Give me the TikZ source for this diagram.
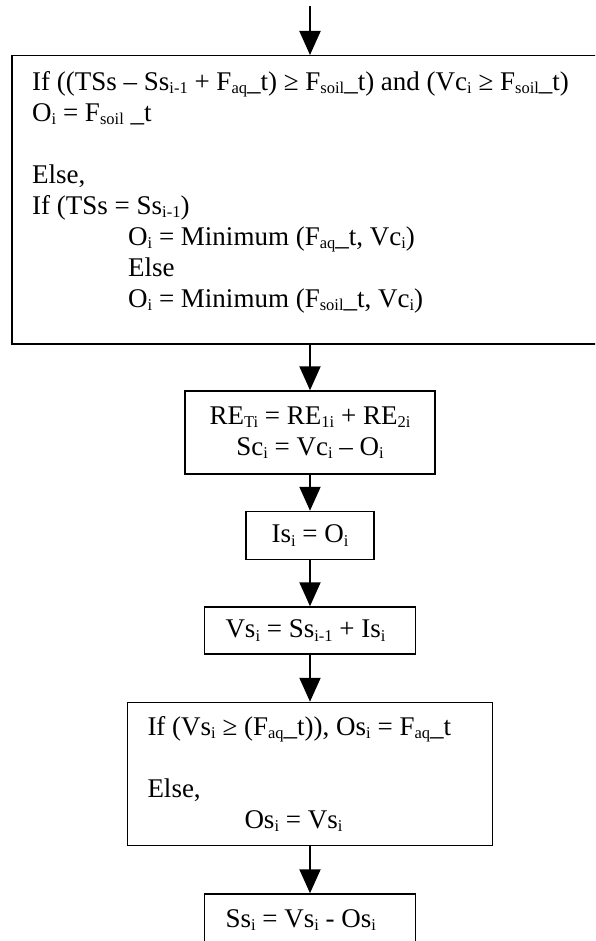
\documentclass[tikz,border=0pt]{standalone}
\usepackage{fontspec}
\setmainfont{Liberation Serif}
\usetikzlibrary{arrows.meta,positioning}
\newcommand{\sbx}[1]{\raisebox{-3.5pt}{\fontsize{16.5}{16.5}\selectfont #1}}

\begin{document}
\begin{tikzpicture}[x=1pt, y=-1pt,
    every node/.style={font=\fontsize{27}{31}\selectfont},
    box/.style={draw, line width=1.5pt},
    flow/.style={-{Triangle[width=21pt,length=24pt]}, line width=2pt}]
  \path[use as bounding box, clip] (0,0) rectangle (595,941);

  \coordinate (start) at (310,6);
  \node[box, anchor=north west, minimum width=640pt, minimum height=288pt] (cond) at (11,55) {};
  \node[anchor=north west, align=left, inner sep=0pt] (condtext) at ([xshift=21pt, yshift=-16pt]cond.north west) {If ((TSs – Ss\sbx{i-1} + F\sbx{aq}\_t) ≥ F\sbx{soil}\_t) and (Vc\sbx{i} ≥ F\sbx{soil}\_t)\\
    O\sbx{i} = F\sbx{soil} \_t\\[31pt]
    Else,\\
    If (TSs = Ss\sbx{i-1})\\
    \hspace*{96pt}O\sbx{i} = Minimum (F\sbx{aq}\_t, Vc\sbx{i})\\
    \hspace*{96pt}Else\\
    \hspace*{96pt}O\sbx{i} = Minimum (F\sbx{soil}\_t, Vc\sbx{i})};

  \node[box, minimum width=250pt, minimum height=83pt, align=center] (recharge) at (310,432.5) {RE\sbx{Ti} = RE\sbx{1i} + RE\sbx{2i}\\ Sc\sbx{i} = Vc\sbx{i} – O\sbx{i}};
  \node[box, below=36pt of recharge, minimum width=128pt, minimum height=48pt] (infil) {Is\sbx{i} = O\sbx{i}};
  \node[box, below=46pt of infil, minimum width=211pt, minimum height=47pt, text width=179pt, inner xsep=16pt, align=flush left] (vsoil) {\hspace*{5pt}Vs\sbx{i} = Ss\sbx{i-1} + Is\sbx{i}};
  \node[box, below=47pt of vsoil, minimum width=365pt, minimum height=143pt, text width=325pt, inner xsep=20pt, align=flush left] (outsoil) {If (Vs\sbx{i} ≥ (F\sbx{aq}\_t)), Os\sbx{i} = F\sbx{aq}\_t\\[31pt]
    Else,\\
    \hspace*{97pt}Os\sbx{i} = Vs\sbx{i}};
  \node[box, below=47pt of outsoil, minimum width=211pt, minimum height=52pt, text width=179pt, inner xsep=16pt, align=flush left] (ssoil) {\hspace*{5pt}Ss\sbx{i} = Vs\sbx{i} - Os\sbx{i}};

  \draw[flow] (start) -- (start |- cond.north);
  \draw[flow] (recharge.north |- cond.south) -- (recharge);
  \draw[flow] (recharge) -- (infil);
  \draw[flow] (infil) -- (vsoil);
  \draw[flow] (vsoil) -- (outsoil);
  \draw[flow] (outsoil) -- (ssoil);
\end{tikzpicture}
\end{document}
